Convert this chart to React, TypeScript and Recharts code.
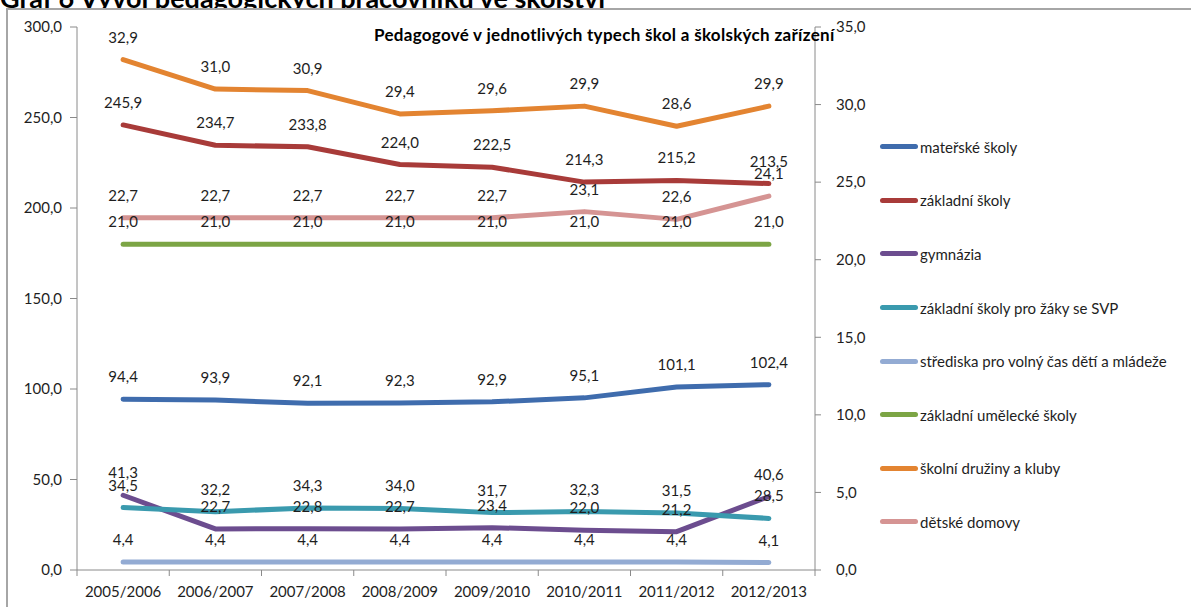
import {
  LabelList,
  Line,
  LineChart,
  XAxis,
  YAxis,
} from "recharts";

const years = [
  "2005/2006",
  "2006/2007",
  "2007/2008",
  "2008/2009",
  "2009/2010",
  "2010/2011",
  "2011/2012",
  "2012/2013",
];

const materske = [94.4, 93.9, 92.1, 92.3, 92.9, 95.1, 101.1, 102.4];
const zakladni = [245.9, 234.7, 233.8, 224.0, 222.5, 214.3, 215.2, 213.5];
const gymnazia = [41.3, 22.7, 22.8, 22.7, 23.4, 22.0, 21.2, 40.6];
const svp = [34.5, 32.2, 34.3, 34.0, 31.7, 32.3, 31.5, 28.5];
const strediska = [4.4, 4.4, 4.4, 4.4, 4.4, 4.4, 4.4, 4.1];
const zus = [21.0, 21.0, 21.0, 21.0, 21.0, 21.0, 21.0, 21.0];
const druziny = [32.9, 31.0, 30.9, 29.4, 29.6, 29.9, 28.6, 29.9];
const domovy = [22.7, 22.7, 22.7, 22.7, 22.7, 23.1, 22.6, 24.1];

const leftTicks = [0, 50, 100, 150, 200, 250, 300];
const rightTicks = [0, 5, 10, 15, 20, 25, 30, 35];

const series = [
  { key: "ms", name: "mateřské školy", values: materske, color: "#3F6CAD", axis: "left" },
  { key: "zs", name: "základní školy", values: zakladni, color: "#A83B39", axis: "left" },
  { key: "gy", name: "gymnázia", values: gymnazia, color: "#6C4D8F", axis: "left" },
  { key: "svp", name: "základní školy pro žáky se SVP", values: svp, color: "#3A9AAE", axis: "left" },
  { key: "svc", name: "střediska pro volný čas dětí a mládeže", values: strediska, color: "#93ABD3", axis: "left" },
  { key: "zus", name: "základní umělecké školy", values: zus, color: "#7CA545", axis: "right" },
  { key: "sd", name: "školní družiny a kluby", values: druziny, color: "#E38431", axis: "right" },
  { key: "dd", name: "dětské domovy", values: domovy, color: "#D59493", axis: "right" },
];

const data = years.map((year, i) => {
  const row: Record<string, string | number> = { year };
  series.forEach((s) => {
    row[s.key] = s.values[i];
  });
  return row;
});

const FONT = "Lato, 'Open Sans', sans-serif";
const AXIS = "#8a8a8a";
const TEXT = "#1e1e1e";
const PLOT_LEFT = 77;
const PLOT_RIGHT = 815;
const PLOT_TOP = 27;
const PLOT_BOTTOM = 570;
const STEP = (PLOT_RIGHT - PLOT_LEFT) / years.length;

const fmt = (v: number) => v.toFixed(1).replace(".", ",");

function YearTick(props: any) {
  const { x, payload, index } = props;
  return (
    <g>
      <line
        x1={x - STEP / 2}
        x2={x - STEP / 2}
        y1={PLOT_BOTTOM}
        y2={PLOT_BOTTOM + 6}
        stroke={AXIS}
      />
      {index === years.length - 1 && (
        <line
          x1={x + STEP / 2}
          x2={x + STEP / 2}
          y1={PLOT_BOTTOM}
          y2={PLOT_BOTTOM + 6}
          stroke={AXIS}
        />
      )}
      <text
        x={x}
        y={PLOT_BOTTOM + 27}
        textAnchor="middle"
        fontSize={15}
        fill={TEXT}
        fontFamily={FONT}
      >
        {payload.value}
      </text>
    </g>
  );
}

export default function App() {
  return (
    <div
      style={{
        position: "absolute",
        left: 0,
        top: 0,
        width: 1191,
        height: 607,
        overflow: "hidden",
        background: "#fff",
        fontFamily: FONT,
      }}
    >
      <div
        style={{
          position: "absolute",
          left: 0,
          top: -19,
          fontSize: 27,
          fontWeight: 700,
          whiteSpace: "nowrap",
          color: "#000",
        }}
      >
        Graf 6 Vývoj pedagogických pracovníků ve školství
      </div>
      <div
        style={{
          position: "absolute",
          left: 6,
          top: 8,
          width: 1200,
          height: 620,
          border: "2px solid #a6a6a6",
          boxSizing: "border-box",
          background: "#fff",
        }}
      />
      <div style={{ position: "absolute", left: 0, top: 0 }}>
        <LineChart
          width={1191}
          height={607}
          data={data}
          margin={{ top: PLOT_TOP, right: 1191 - PLOT_RIGHT - 60, bottom: 0, left: PLOT_LEFT - 70 }}
        >
          <XAxis
            dataKey="year"
            stroke={AXIS}
            tickLine={false}
            tick={<YearTick />}
            height={607 - PLOT_BOTTOM}
            interval={0}
            padding={{ left: STEP / 2, right: STEP / 2 }}
          />
          <YAxis
            yAxisId="left"
            width={70}
            domain={[0, 300]}
            ticks={leftTicks}
            stroke={AXIS}
            tickSize={7}
            tickMargin={8}
            tickFormatter={fmt}
            tick={{ fontSize: 15, fill: TEXT, fontFamily: FONT }}
          />
          <YAxis
            yAxisId="right"
            orientation="right"
            width={60}
            domain={[0, 35]}
            ticks={rightTicks}
            stroke={AXIS}
            tickSize={6}
            tickMargin={15}
            tickFormatter={fmt}
            tick={{ fontSize: 15, fill: TEXT, fontFamily: FONT }}
          />
          {series.map((s) => (
            <Line
              key={s.key}
              yAxisId={s.axis}
              dataKey={s.key}
              name={s.name}
              stroke={s.color}
              strokeWidth={5}
              strokeLinecap="round"
              strokeLinejoin="round"
              dot={false}
              activeDot={false}
              isAnimationActive={false}
            >
              <LabelList
                dataKey={s.key}
                position="top"
                offset={17}
                formatter={(v: any) => fmt(Number(v))}
                style={{ fontSize: 15, fill: TEXT, fontFamily: FONT }}
              />
            </Line>
          ))}
        </LineChart>
      </div>
      <div
        style={{
          position: "absolute",
          left: 374,
          top: 24,
          fontSize: 17,
          letterSpacing: 0.3,
          fontWeight: 700,
          color: "#000",
          whiteSpace: "nowrap",
        }}
      >
        Pedagogové v jednotlivých typech škol a školských zařízení
      </div>
      <div style={{ position: "absolute", left: 880, top: 136 }}>
        {series.map((s) => (
          <div
            key={s.key}
            style={{
              display: "flex",
              alignItems: "center",
              height: 53.6,
            }}
          >
            <div
              style={{
                width: 38,
                height: 5,
                borderRadius: 3,
                background: s.color,
                marginRight: 2,
                marginTop: -32,
              }}
            />
            <span style={{ fontSize: 15, color: TEXT, marginTop: -32 }}>{s.name}</span>
          </div>
        ))}
      </div>
    </div>
  );
}
